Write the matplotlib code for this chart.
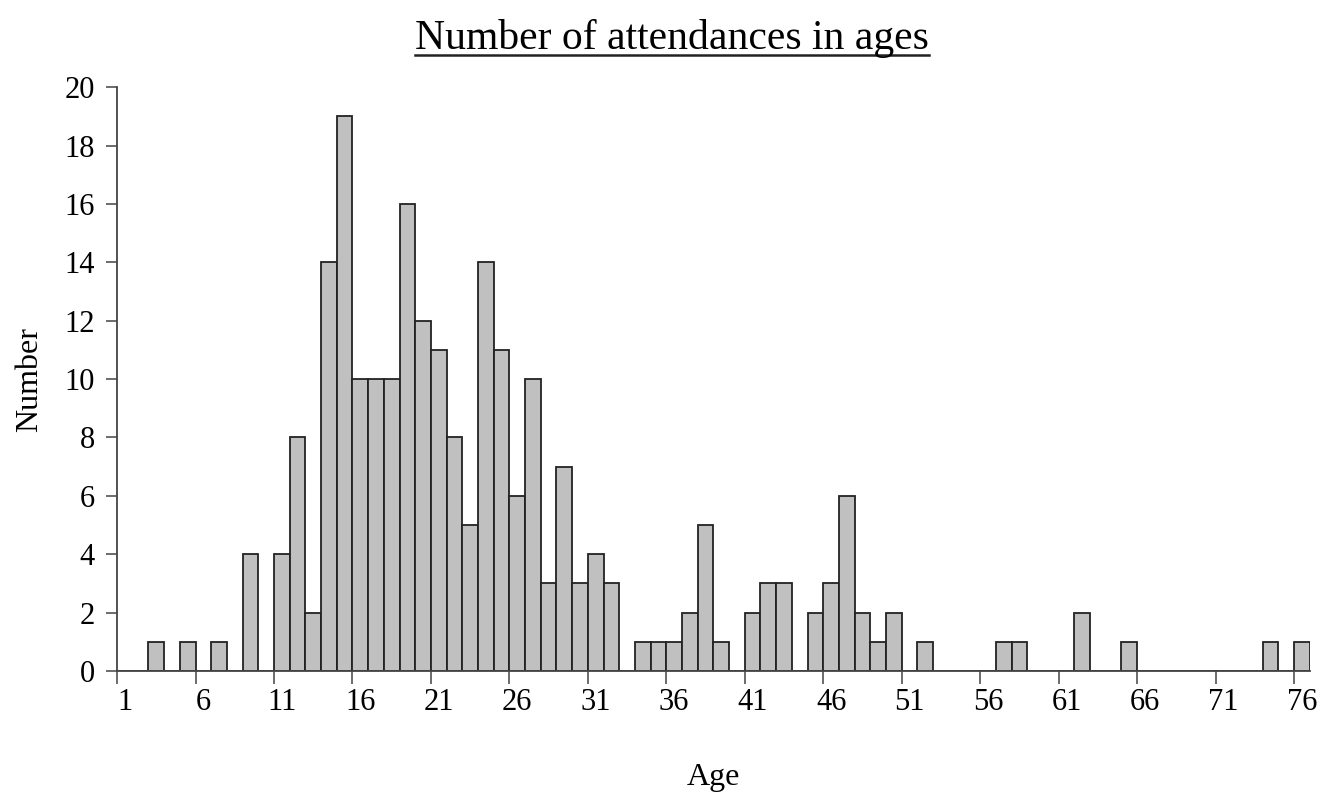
import matplotlib
matplotlib.use("Agg")
import matplotlib.pyplot as plt
from matplotlib.lines import Line2D
from matplotlib.ticker import FixedLocator, NullFormatter

# ages 1..76 and the number of attendances per age
ages = list(range(1, 77))
counts = [0, 0, 1, 0, 1, 0, 1, 0, 4, 0,
          4, 8, 2, 14, 19, 10, 10, 10, 16, 12,
          11, 8, 5, 14, 11, 6, 10, 3, 7, 3,
          4, 3, 0, 1, 1, 1, 2, 5, 1, 0,
          2, 3, 3, 0, 2, 3, 6, 2, 1, 2,
          0, 1, 0, 0, 0, 0, 1, 1, 0, 0,
          0, 2, 0, 0, 1, 0, 0, 0, 0, 0,
          0, 0, 0, 1, 0, 1]
age_labels = list(range(1, 77, 5))
y_ticks = list(range(0, 21, 2))

plt.rcParams['font.family'] = ['Liberation Serif', 'DejaVu Serif']

fig = plt.figure(figsize=(13.27, 7.99), dpi=100)
ax = fig.add_axes([0.0882, 0.1602, 0.8988, 0.7307])

ax.bar(ages, counts, width=1.0, color='#c0c0c0', edgecolor='#222222', linewidth=1.3)

ax.set_xlim(0.5, 76.5)
ax.set_ylim(0, 20)

# labels centred on categories, tick marks between categories
ax.xaxis.set_major_locator(FixedLocator(age_labels))
ax.set_xticklabels([str(a) for a in age_labels])
ax.xaxis.set_minor_locator(FixedLocator([a - 0.5 for a in age_labels]))
ax.xaxis.set_minor_formatter(NullFormatter())
ax.tick_params(axis='x', which='major', length=0, pad=12, labelsize=22)
ax.tick_params(axis='x', which='minor', length=9, width=1.1, color='#444444', direction='out')

ax.set_yticks(y_ticks)
ax.tick_params(axis='y', length=8, width=1.1, color='#444444', direction='out', pad=8, labelsize=22)

for s in ['top', 'right']:
    ax.spines[s].set_visible(False)
for s in ['left', 'bottom']:
    ax.spines[s].set_color('#444444')
    ax.spines[s].set_linewidth(1.3)

ax.set_xlabel('Age', fontsize=23)
ax.xaxis.set_label_coords(0.5, -0.158)
ax.set_ylabel('Number', fontsize=23)
ax.yaxis.set_label_coords(-0.061, 0.5)

title = fig.text(0.5066, 0.952, 'Number of attendances in ages', fontsize=30,
                 ha='center', va='center')

# underline the title
fig.canvas.draw()
bb = title.get_window_extent().transformed(fig.transFigure.inverted())
fig.add_artist(Line2D([bb.x0, bb.x1], [bb.y0 + 0.004, bb.y0 + 0.004],
                      transform=fig.transFigure, color='#222222', linewidth=1.8))

fig.savefig('out.png', dpi=100)
